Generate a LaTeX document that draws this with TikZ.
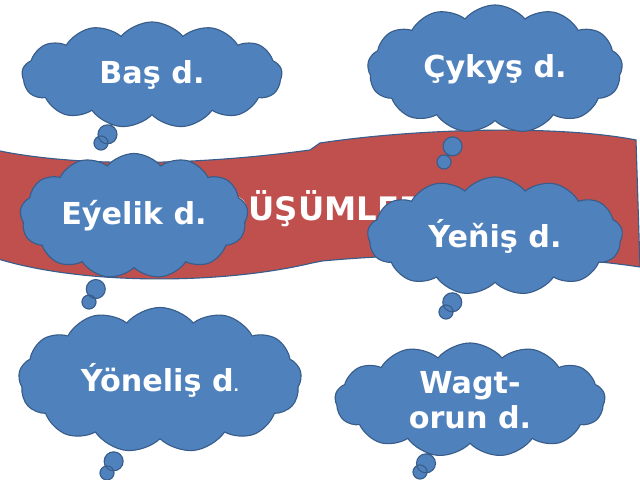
\documentclass[tikz,border=0pt]{standalone}
\usepackage{fontspec}
\setmainfont{DejaVu Sans}
\usetikzlibrary{shapes.callouts,shapes.symbols}
\definecolor{cloudblue}{HTML}{4F81BD}
\definecolor{cloudedge}{HTML}{385D8A}
\definecolor{bannerred}{HTML}{C0504D}
\begin{document}
\begin{tikzpicture}[x=0.025cm,y=-0.025cm,
    bubble/.style={cloud callout, cloud puffs=13, cloud puff arc=100, cloud ignores aspect,
        fill=cloudblue, draw=cloudedge, line width=0.8pt, text=white, align=center,
        font=\bfseries\fontsize{21.5}{24.8}\selectfont,
        callout pointer segments=2,
        callout pointer start size=17pt, callout pointer end size=10pt}]
    % Frame
    \useasboundingbox (0,0) rectangle (640,480);
    \clip (0,0) rectangle (640,480);
    \fill[white] (0,0) rectangle (640,480);

    % Red banner
    \draw[fill=bannerred, draw=cloudedge, line width=0.8pt]
        (-5,150) .. controls (80,168) and (200,165) .. (310,150) -- (320,143)
        .. controls (420,128) and (560,125) .. (636,140) -- (640,267)
        .. controls (560,255) and (440,250) .. (322,261) -- (312,263)
        .. controls (220,285) and (80,285) .. (-5,258) -- cycle;
    \node[text=white, font=\bfseries\fontsize{23}{26}\selectfont] (title) at (323,209) {DÜŞÜMLER};

    % Clouds
    \node[bubble, minimum width=6.5cm, minimum height=2.65cm,
        callout absolute pointer={(101,143)}] (bas) at (152,75) {Baş d.};
    \node[bubble, minimum width=6.375cm, minimum height=3.2cm,
        callout absolute pointer={(444,162)}] (cykys) at (495,69) {Çykyş d.};
    \node[bubble, minimum width=5.7cm, minimum height=3.125cm,
        callout absolute pointer={(89,302)}] (eyelik) at (134,216) {Eýelik d.};
    \node[bubble, minimum width=6.375cm, minimum height=2.95cm,
        callout absolute pointer={(446,312)}] (yenis) at (495,236) {Ýeňiş d.};
    \node[bubble, minimum width=7.075cm, minimum height=3.625cm,
        callout absolute pointer={(107,473)}] (yonelis) at (160,380) {Ýöneliş d{\fontsize{10}{12}\selectfont.}};
    \node[bubble, minimum width=6.75cm, minimum height=2.85cm,
        callout absolute pointer={(420,472)}] (wagt) at (470,400) {Wagt-\\orun d.};
\end{tikzpicture}
\end{document}
